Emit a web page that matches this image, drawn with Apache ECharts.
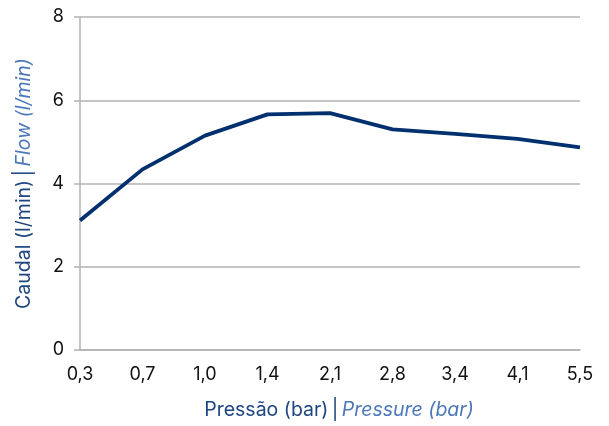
<!DOCTYPE html>
<html>
<head>
<meta charset="utf-8">
<script src="https://cdn.jsdelivr.net/npm/echarts@6/dist/echarts.min.js"></script>
<style>html,body{margin:0;padding:0;background:#fff}#c{width:609px;height:426px}</style>
</head>
<body>
<div id="c"></div>
<script>
const categories = ['0,3','0,7','1,0','1,4','2,1','2,8','3,4','4,1','5,5'];
const flowValues = [3.11, 4.34, 5.15, 5.66, 5.69, 5.30, 5.19, 5.07, 4.87];
const yTicks = [0, 2, 4, 6, 8];

const chart = echarts.init(document.getElementById('c'));
const font = 'Inter, "Noto Sans", sans-serif';
const nameRich = {
  a: { color: '#1d4580', fontSize: 19.5, fontFamily: font },
  s: { color: '#1d4580', fontSize: 20, fontFamily: font },
  b: { color: '#4a78b8', fontSize: 19.5, fontFamily: font, fontStyle: 'italic' }
};
chart.setOption({
  animation: false,
  grid: { left: 80, right: 29, top: 17, bottom: 76 },
  xAxis: {
    type: 'category',
    data: categories,
    boundaryGap: false,
    axisLine: { show: true, lineStyle: { color: '#b3b3b3', width: 1.5 } },
    axisTick: { show: false },
    axisLabel: { color: '#111', fontSize: 18, fontFamily: font, margin: 16 },
    name: '{a|Pressão (bar)} {s||} {b|Pressure (bar)}',
    nameLocation: 'middle',
    nameGap: 50,
    nameTextStyle: { rich: nameRich, padding: [0, 0, 0, 18] }
  },
  yAxis: {
    type: 'value',
    min: yTicks[0],
    max: yTicks[yTicks.length - 1],
    interval: 2,
    axisLine: { show: true, lineStyle: { color: '#b3b3b3', width: 1.5 } },
    axisTick: { show: true, length: 6, lineStyle: { color: '#b3b3b3', width: 1.5 } },
    splitLine: { lineStyle: { color: '#b3b3b3', width: 1.5 } },
    axisLabel: { color: '#111', fontSize: 18, fontFamily: font, margin: 16 },
    name: '{a|Caudal (l/min)} {s||} {b|Flow (l/min)}',
    nameLocation: 'middle',
    nameGap: 46,
    nameTextStyle: { rich: nameRich }
  },
  series: [{
    type: 'line',
    data: flowValues,
    symbol: 'none',
    lineStyle: { color: '#00306e', width: 3.8 }
  }]
});
</script>
</body>
</html>
